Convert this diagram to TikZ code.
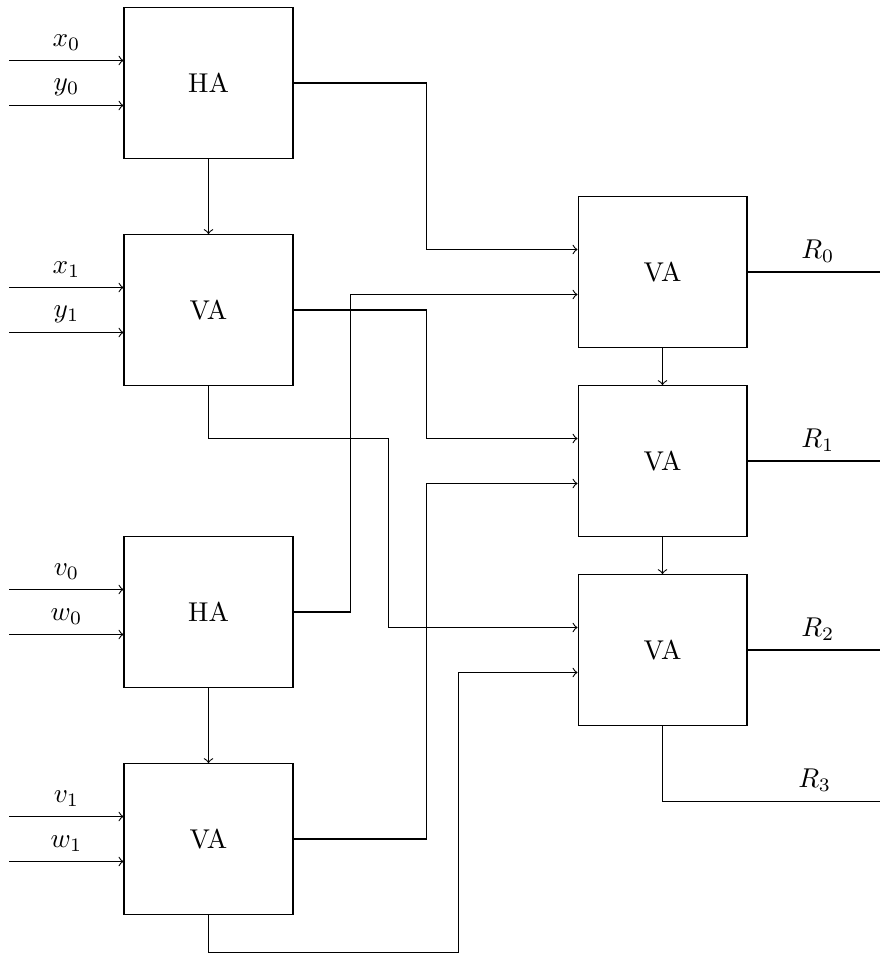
\documentclass[tikz,border=0pt]{standalone}
\usetikzlibrary{calc}
\begin{document}
\begin{tikzpicture}[x=0.3676pt,y=-0.3676pt,>=to,
  box/.style={draw, minimum width=62.1pt, minimum height=55.4pt, inner sep=0pt},
  lbl/.style={midway, above}]
\useasboundingbox (0,0) rectangle (880,953);

% adder blocks, left column
\node[box] (ha0) at (208.5,83)  {HA};
\node[box] (va0) at (208.5,310) {VA};
\node[box] (ha1) at (208.5,612) {HA};
\node[box] (va1) at (208.5,839) {VA};
% adder blocks, right column
\node[box] (r0) at (662.5,272) {VA};
\node[box] (r1) at (662.5,461) {VA};
\node[box] (r2) at (662.5,650) {VA};

% operand inputs
\foreach \b/\p/\q in {ha0/x_0/y_0, va0/x_1/y_1, ha1/v_0/w_0, va1/v_1/w_1} {
  \coordinate (\b-p) at ($(\b.west)+(-114,-22.5)$);
  \coordinate (\b-q) at ($(\b.west)+(-114,22.5)$);
  \draw[->] (\b-p) -- (\b-p -| \b.west) node[lbl] {$\p$};
  \draw[->] (\b-q) -- (\b-q -| \b.west) node[lbl] {$\q$};
}

% entry points on the right column
\foreach \b in {r0,r1,r2} {
  \coordinate (\b a) at ($(\b.west)+(0,-22.5)$);
  \coordinate (\b b) at ($(\b.west)+(0,22.5)$);
}

% routing columns
\coordinate (cA) at (350.5,0);
\coordinate (cB) at (388.5,0);
\coordinate (cC) at (426.5,0);
\coordinate (cD) at (458.5,952.8);

% carries down the columns
\draw[->] (ha0) -- (va0);
\draw[->] (ha1) -- (va1);
\draw[->] (r0) -- (r1);
\draw[->] (r1) -- (r2);

% cross connections
\draw[->] (ha0.east) -| (cC |- r0a) -- (r0a);
\draw[->] (ha1.east) -| (cA |- r0b) -- (r0b);
\draw[->] (va0.east) -| (cC |- r1a) -- (r1a);
\draw[->] (va0.south) |- (cB |- r1a) -- (cB |- r2a) -- (r2a);
\draw[->] (va1.east) -| (cC |- r1b) -- (r1b);
\draw[->] (va1.south) |- (cD) -- (cD |- r2b) -- (r2b);

% results
\coordinate (o0) at (880,272);
\coordinate (o1) at (880,461);
\coordinate (o2) at (880,650);
\coordinate (o3) at (880,801.5);
\draw (r0.east) -- (o0) node[lbl, xshift=1.5pt] {$R_0$};
\draw (r1.east) -- (o1) node[lbl, xshift=1.5pt] {$R_1$};
\draw (r2.east) -- (o2) node[lbl, xshift=1.5pt] {$R_2$};
\draw (r2.south) |- (o3) node[pos=0.85, above] {$R_3$};
\end{tikzpicture}
\end{document}
